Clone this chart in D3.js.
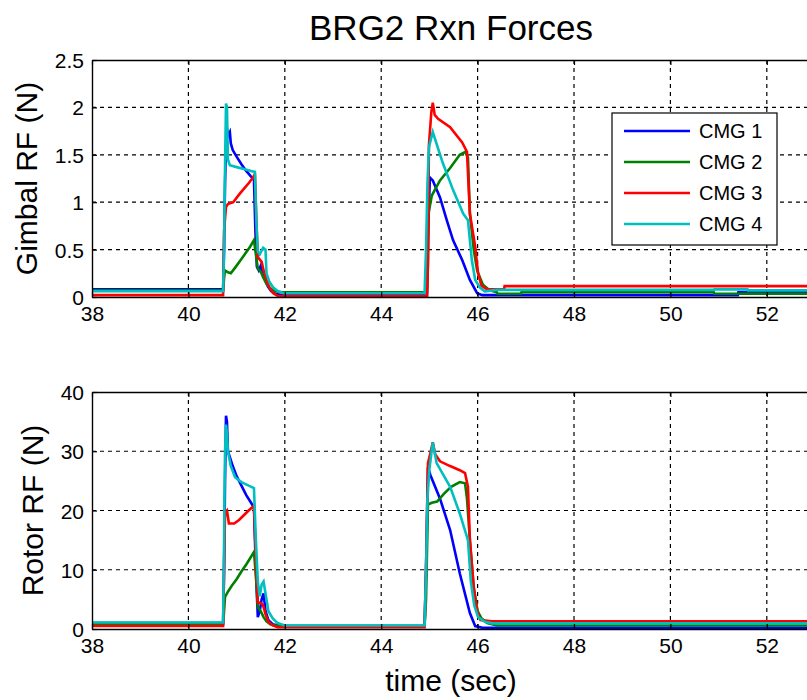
<!DOCTYPE html>
<html>
<head>
<meta charset="utf-8">
<script src="https://cdn.jsdelivr.net/npm/d3@7/dist/d3.min.js"></script>
<style>
  html, body { margin: 0; padding: 0; background: #fff; }
  svg { display: block; font-family: Arial, "Liberation Sans", Helvetica, sans-serif; }
</style>
</head>
<body>
<svg id="chart" width="807" height="700"></svg>
<script>
// ---- data: bearing 2 reaction forces per CMG, [time (s), force (N)] ----
const seriesNames = ["CMG 1", "CMG 2", "CMG 3", "CMG 4"];
const seriesColors = ["#0000ff", "#008000", "#ff0000", "#00bfbf"];

const xTicks = [38, 40, 42, 44, 46, 48, 50, 52];
const gimbalTicks = [0, 0.5, 1, 1.5, 2, 2.5];
const rotorTicks = [0, 10, 20, 30, 40];

const gimbalCmg1 = [[38,0.08],[40.72,0.08],[40.74,0.5],[40.76,1.2],[40.78,1.6],[40.80,1.78],[40.82,1.7],[40.86,1.74],[40.88,1.62],[40.92,1.55],[41.00,1.48],[41.10,1.4],[41.20,1.33],[41.30,1.27],[41.36,1.24],[41.39,0.7],[41.42,0.32],[41.46,0.28],[41.50,0.33],[41.55,0.25],[41.60,0.17],[41.65,0.11],[41.72,0.06],[41.82,0.03],[41.95,0.02],[44.95,0.02],[44.97,0.6],[45.00,1.1],[45.01,1.26],[45.07,1.23],[45.22,1.05],[45.36,0.81],[45.49,0.6],[45.68,0.39],[45.84,0.18],[45.99,0.04],[46.1,0.02],[51.4,0.02],[51.41,0.05],[53,0.05]];
const gimbalCmg2 = [[38,0.07],[40.72,0.07],[40.74,0.2],[40.76,0.28],[40.82,0.26],[40.88,0.25],[40.97,0.31],[41.07,0.38],[41.17,0.45],[41.28,0.53],[41.36,0.6],[41.40,0.45],[41.44,0.3],[41.50,0.27],[41.55,0.21],[41.62,0.14],[41.70,0.09],[41.80,0.06],[41.95,0.05],[44.95,0.05],[44.97,0.32],[44.98,0.88],[45.05,1.07],[45.22,1.23],[45.43,1.36],[45.63,1.5],[45.74,1.53],[45.80,1.47],[45.84,0.88],[45.92,0.5],[45.99,0.28],[46.11,0.13],[46.25,0.07],[46.4,0.05],[46.41,0.035],[46.9,0.035],[46.91,0.05],[50.9,0.05],[50.91,0.035],[53,0.035]];
const gimbalCmg3 = [[38,0.02],[40.72,0.02],[40.74,0.7],[40.78,0.95],[40.82,0.98],[40.93,1.0],[41.05,1.08],[41.15,1.14],[41.25,1.2],[41.34,1.26],[41.38,1.3],[41.41,0.8],[41.44,0.42],[41.52,0.37],[41.56,0.28],[41.62,0.18],[41.68,0.1],[41.76,0.04],[41.86,0.01],[44.95,0.01],[44.97,0.4],[44.99,1.6],[45.04,1.95],[45.07,2.05],[45.11,1.92],[45.18,1.88],[45.43,1.79],[45.68,1.63],[45.78,1.53],[45.84,0.88],[45.95,0.53],[46.01,0.25],[46.08,0.12],[46.2,0.08],[46.55,0.08],[46.56,0.115],[53,0.115]];
const gimbalCmg4 = [[38,0.06],[40.72,0.06],[40.74,0.5],[40.76,1.37],[40.78,2.04],[40.80,2.0],[40.82,1.45],[40.86,1.39],[41.00,1.37],[41.15,1.35],[41.30,1.33],[41.38,1.32],[41.41,0.8],[41.44,0.48],[41.48,0.45],[41.55,0.52],[41.60,0.5],[41.62,0.25],[41.68,0.16],[41.76,0.1],[41.86,0.06],[41.98,0.04],[44.9,0.04],[44.93,0.5],[44.96,1.2],[44.99,1.58],[45.07,1.74],[45.28,1.41],[45.49,1.13],[45.70,0.88],[45.80,0.81],[45.88,0.39],[45.95,0.18],[46.05,0.1],[46.15,0.06],[46.4,0.075],[50.9,0.075],[50.91,0.08],[51.6,0.08],[51.61,0.07],[53,0.07]];

const rotorCmg1 = [[38,1.0],[40.72,1.0],[40.74,10],[40.76,25],[40.78,36],[40.80,35],[40.82,30],[40.86,29],[40.92,27.5],[41.00,25.8],[41.10,24.2],[41.20,22.6],[41.30,21.3],[41.36,20.5],[41.40,10],[41.44,2],[41.48,3],[41.52,5],[41.56,6],[41.60,3],[41.66,1.5],[41.75,0.8],[41.9,0.5],[44.9,0.5],[44.93,10],[44.97,27.3],[45.02,26],[45.22,22],[45.43,16.7],[45.63,9.4],[45.84,2.7],[45.95,0.5],[46.1,0.2],[53,0.2]];
const rotorCmg2 = [[38,0.8],[40.72,0.8],[40.74,3],[40.76,5.4],[40.82,6.3],[40.90,7.3],[41.00,8.4],[41.10,9.7],[41.20,10.9],[41.30,12.2],[41.36,13],[41.40,9],[41.44,3.7],[41.50,3],[41.56,2],[41.62,1.3],[41.70,0.8],[41.85,0.5],[44.9,0.5],[44.93,5],[44.97,21],[45.05,21.3],[45.16,21.5],[45.30,22.8],[45.45,24],[45.63,24.8],[45.74,24.6],[45.78,22],[45.84,15],[45.92,7],[46.0,3],[46.08,1.8],[46.2,1.0],[46.4,0.6],[53,0.6]];
const rotorCmg3 = [[38,0.5],[40.72,0.5],[40.74,10],[40.76,19.6],[40.80,20],[40.84,17.8],[40.95,17.8],[41.05,18.4],[41.15,19.2],[41.25,20.0],[41.36,20.8],[41.40,12],[41.44,4.5],[41.50,4.4],[41.55,4],[41.60,2.5],[41.66,1.2],[41.75,0.6],[41.85,0.3],[44.9,0.3],[44.93,10],[44.97,28],[45.03,30],[45.07,31.5],[45.12,29.5],[45.22,28.3],[45.43,27.5],[45.63,26.8],[45.74,26.3],[45.80,24],[45.84,15],[45.92,7],[45.99,3],[46.06,1.5],[46.3,1.3],[53,1.3]];
const rotorCmg4 = [[38,1.1],[40.72,1.1],[40.74,15],[40.76,30],[40.78,34.5],[40.80,33],[40.82,30],[40.88,27.5],[40.97,25.6],[41.10,24.8],[41.25,24.2],[41.36,23.8],[41.40,15],[41.44,8],[41.48,5.5],[41.52,7.5],[41.56,8],[41.60,6],[41.66,3],[41.75,1.8],[41.85,1.0],[42.0,0.6],[44.9,0.6],[44.93,9.5],[44.96,22],[45.0,27],[45.07,31.5],[45.15,28],[45.43,24],[45.63,19.5],[45.80,15],[45.86,8],[45.93,4],[46.01,2],[46.15,1.2],[46.3,0.95],[53,0.95]];

// ---- layout ----
const svg = d3.select("#chart");
const left = 92, right = 815;
const x = d3.scaleLinear().domain([38, 53]).range([left, right]);

const panels = [
  { id: "g", top: 60, bottom: 297, domain: [0, 2.5], ticks: gimbalTicks,
    fmt: d3.format("~g"), label: "Gimbal RF (N)", labelX: 37,
    series: [gimbalCmg1, gimbalCmg2, gimbalCmg3, gimbalCmg4] },
  { id: "r", top: 392, bottom: 629, domain: [0, 40], ticks: rotorTicks,
    fmt: d3.format("d"), label: "Rotor RF (N)", labelX: 43,
    series: [rotorCmg1, rotorCmg2, rotorCmg3, rotorCmg4] }
];

svg.append("text")
  .attr("x", 451).attr("y", 40)
  .attr("text-anchor", "middle")
  .attr("font-size", 35)
  .attr("fill", "#000")
  .text("BRG2 Rxn Forces");

panels.forEach(p => {
  const y = d3.scaleLinear().domain(p.domain).range([p.bottom, p.top]);
  const g = svg.append("g");

  g.append("clipPath").attr("id", "clip-" + p.id)
    .append("rect")
    .attr("x", left).attr("y", p.top - 2)
    .attr("width", right - left).attr("height", p.bottom - p.top + 2);

  // dashed grid
  g.append("g").selectAll("line").data(xTicks.filter(t => t > 38)).join("line")
    .attr("x1", d => x(d)).attr("x2", d => x(d))
    .attr("y1", p.top).attr("y2", p.bottom)
    .attr("stroke", "#000").attr("stroke-width", 1.2)
    .attr("stroke-dasharray", "4,4");
  g.append("g").selectAll("line").data(p.ticks.filter(t => t > p.domain[0] && t < p.domain[1])).join("line")
    .attr("x1", left).attr("x2", right)
    .attr("y1", d => y(d)).attr("y2", d => y(d))
    .attr("stroke", "#000").attr("stroke-width", 1.2)
    .attr("stroke-dasharray", "4,4");

  // data lines
  const line = d3.line().x(d => x(d[0])).y(d => y(d[1]));
  g.append("g").attr("clip-path", "url(#clip-" + p.id + ")")
    .selectAll("path").data(p.series).join("path")
    .attr("d", line)
    .attr("fill", "none")
    .attr("stroke", (d, i) => seriesColors[i])
    .attr("stroke-width", 2.6)
    .attr("stroke-linejoin", "miter");

  // axes (inward ticks)
  const yAxis = d3.axisLeft(y).tickValues(p.ticks).tickFormat(p.fmt).tickSizeInner(-5).tickSizeOuter(0).tickPadding(8);
  const yg = g.append("g").attr("transform", `translate(${left},0)`).call(yAxis);
  const xAxis = d3.axisBottom(x).tickValues(xTicks).tickFormat(d3.format("d")).tickSizeInner(-5).tickSizeOuter(0).tickPadding(8);
  const xg = g.append("g").attr("transform", `translate(0,${p.bottom})`).call(xAxis);
  const xTop = d3.axisTop(x).tickValues(xTicks).tickFormat("").tickSizeInner(-5).tickSizeOuter(0);
  const xtg = g.append("g").attr("transform", `translate(0,${p.top})`).call(xTop);
  [yg, xg, xtg].forEach(a => {
    a.select(".domain").attr("stroke", "#000").attr("stroke-width", 1.4);
    a.selectAll(".tick line").attr("stroke", "#000").attr("stroke-width", 1.2);
    a.selectAll("text").attr("font-size", 21).attr("fill", "#000")
      .attr("font-family", "Arial, 'Liberation Sans', sans-serif");
  });
  xg.selectAll("text").attr("dy", null).attr("y", 24);
  yg.selectAll("text").attr("dy", "0.36em").attr("x", -8);

  g.append("text")
    .attr("transform", `translate(${p.labelX},${(p.top + p.bottom) / 2}) rotate(-90)`)
    .attr("text-anchor", "middle")
    .attr("font-size", 30)
    .attr("fill", "#000")
    .text(p.label);
});

svg.append("text")
  .attr("x", 451).attr("y", 691)
  .attr("text-anchor", "middle")
  .attr("font-size", 30)
  .attr("fill", "#000")
  .text("time (sec)");

// legend
const lg = svg.append("g");
lg.append("rect").attr("x", 612).attr("y", 113).attr("width", 165).attr("height", 132)
  .attr("fill", "#fff").attr("stroke", "#000").attr("stroke-width", 1.2);
const rows = lg.selectAll("g.row").data(seriesNames).join("g")
  .attr("transform", (d, i) => `translate(0,${131 + i * 31})`);
rows.append("line").attr("x1", 624).attr("x2", 690).attr("y1", 0).attr("y2", 0)
  .attr("stroke", (d, i) => seriesColors[i]).attr("stroke-width", 2.6);
rows.append("text").attr("x", 699).attr("y", 0).attr("dy", "0.36em")
  .attr("font-size", 20).attr("fill", "#000").text(d => d);
</script>
</body>
</html>
